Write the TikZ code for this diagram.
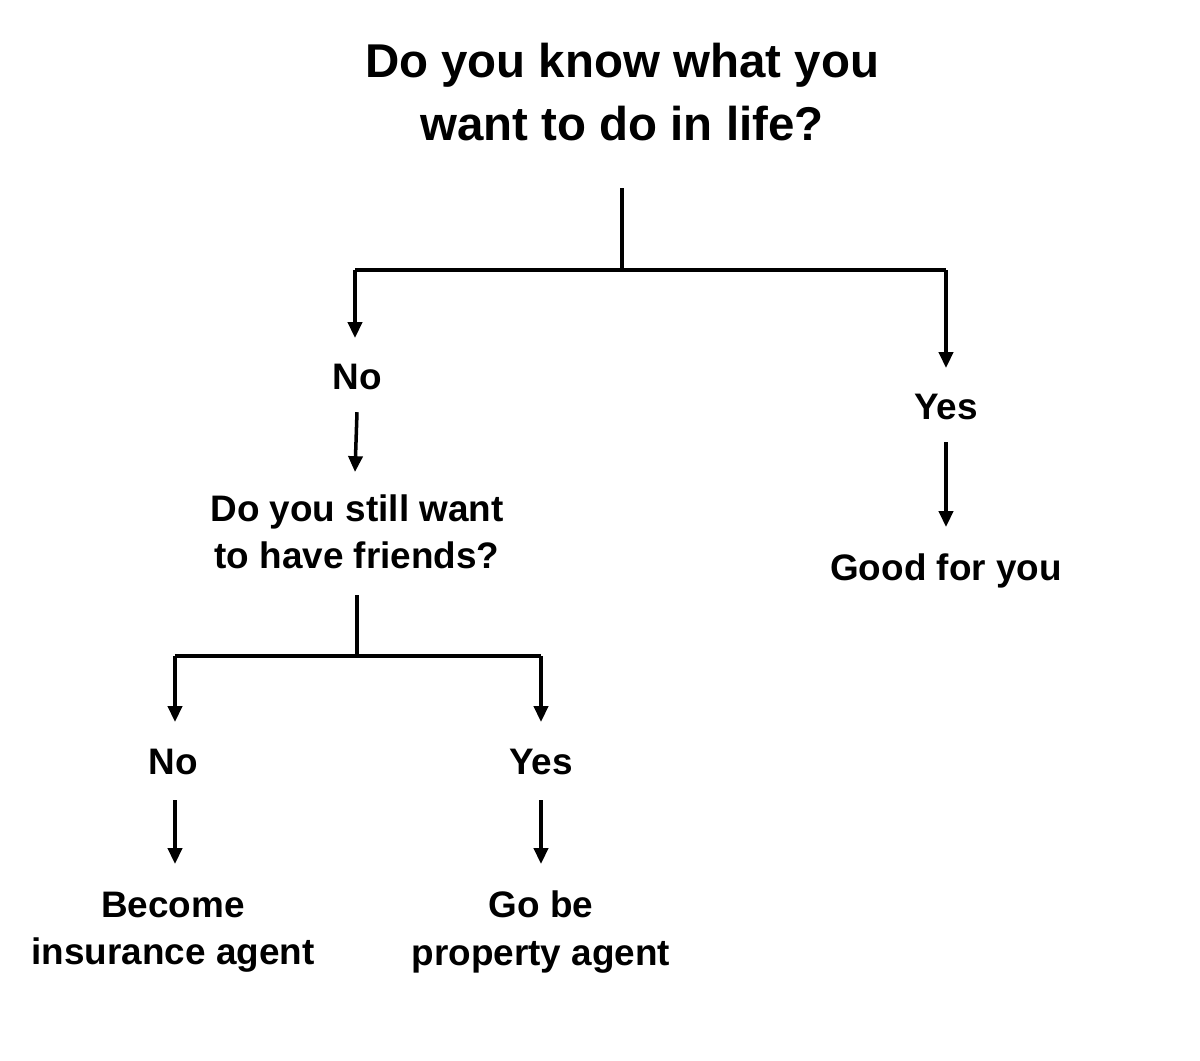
\documentclass[tikz,border=0pt]{standalone}
\usepackage{fontspec}
\setmainfont{Liberation Sans}
\usetikzlibrary{arrows.meta}
\begin{document}
\begin{tikzpicture}[x=0.02cm, y=-0.02cm,
    label/.style={align=center, font=\fontsize{21}{27}\selectfont\bfseries, inner sep=0pt},
    title/.style={align=center, font=\fontsize{27}{36}\selectfont\bfseries, inner sep=0pt},
    link/.style={line width=2pt},
    arrow/.style={line width=2pt, -{Triangle[length=9pt, width=8pt]}}]
   \useasboundingbox (0,0) rectangle (1200,1061);
   \node[title] (Q)  at (622,92)  {Do you know what you\\want to do in life?};
   \node[label] (N1) at (357,377) {No};
   \node[label] (Y1) at (946,407) {Yes};
   \node[label] (F)  at (357,532) {Do you still want\\to have friends?};
   \node[label] (G)  at (946,571) {Good for you};
   \node[label] (N2) at (173,762) {No};
   \node[label] (Y2) at (541,762) {Yes};
   \node[label] (I)  at (173,932) {Become\\insurance agent};
   \node[label] (P)  at (541,932) {Go be\\property agent};

   \coordinate (qa) at (622,188);
   \coordinate (qb) at (622,270);
   \coordinate (ql) at (355,270);
   \coordinate (qr) at (946,270);
   \coordinate (fa) at (357,595);
   \coordinate (fb) at (357,656);
   \coordinate (fl) at (175,656);
   \coordinate (fr) at (541,656);

   \draw[link] (qa) -- (qb);
   \draw[link] (ql) -- (qr);
   \draw[arrow] (ql) -- (355,338);
   \draw[arrow] (qr) -- (946,368);
   \draw[arrow] (N1.south) ++(0,22) -- (355,472);
   \draw[arrow] (Y1.south) ++(0,22) -- (946,527);
   \draw[link] (fa) -- (fb);
   \draw[link] (fl) -- (fr);
   \draw[arrow] (fl) -- (175,722);
   \draw[arrow] (fr) -- (541,722);
   \draw[arrow] (175,800) -- (175,864);
   \draw[arrow] (541,800) -- (541,864);
\end{tikzpicture}
\end{document}
